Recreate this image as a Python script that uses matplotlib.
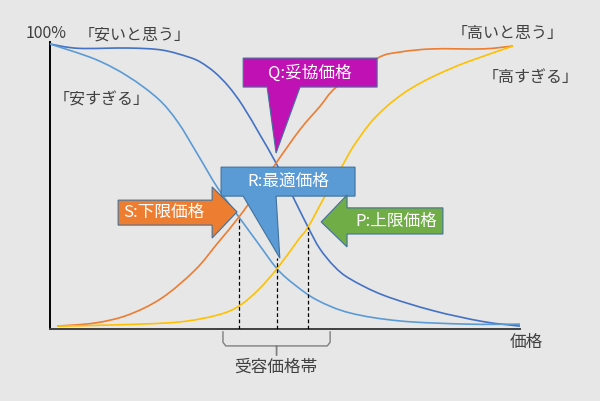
import matplotlib
matplotlib.use("Agg")
import matplotlib.pyplot as plt
from matplotlib.patches import Polygon, PathPatch
from matplotlib.path import Path

plt.rcParams["font.family"] = ["Noto Sans CJK JP", "DejaVu Sans"]

# curves: price (0-100) vs share of answers (%)
cheap_x = [0.0, 6.0, 16.6, 23.8, 29.4, 32.0, 35.0, 38.0, 41.0, 44.7, 48.1,
           51.5, 54.9, 57.4, 60.5, 63.8, 70.9, 81.5, 92.1, 100.0]
cheap_y = [99.3, 97.8, 97.9, 97.2, 94.8, 93.0, 89.5, 84.5, 77.8, 67.6, 57.8,
           46.7, 35.5, 28.0, 21.8, 17.5, 11.8, 6.4, 2.6, 1.0]

too_cheap_x = [0.0, 9.6, 16.6, 23.0, 27.2, 31.5, 35.7, 40.2, 44.0, 48.3,
               52.0, 56.8, 63.8, 74.5, 88.7, 100.0]
too_cheap_y = [99.3, 94.0, 88.0, 80.2, 72.1, 60.6, 49.1, 39.0, 30.5, 21.0,
               15.5, 10.1, 5.6, 2.8, 1.7, 1.7]

expensive_x = [1.5, 9.6, 16.6, 23.8, 30.9, 35.7, 40.2, 44.3, 48.1, 53.2,
               57.4, 61.0, 69.6, 74.5, 81.5, 92.1, 98.5]
expensive_y = [1.0, 2.1, 4.9, 10.8, 20.6, 30.0, 39.0, 48.4, 57.8, 69.5,
               77.5, 84.4, 94.3, 96.5, 97.6, 97.6, 98.6]

too_exp_x = [1.5, 13.2, 27.2, 35.7, 40.2, 44.3, 48.3, 52.8, 54.9, 58.5,
             62.1, 64.5, 68.1, 71.6, 75.2, 78.7, 83.0, 88.7, 98.5]
too_exp_y = [1.0, 1.4, 2.4, 4.9, 8.0, 13.6, 21.0, 31.0, 35.5, 46.3,
             56.6, 63.5, 71.7, 77.5, 82.1, 85.6, 89.1, 93.0, 98.6]

# key points (price, %)
point_s = (40.2, 39.0)
point_r = (48.3, 21.0)
point_p = (54.9, 35.5)

bg = "#e7e7e7"
txt = "#404040"
edge = "#41719c"

fig = plt.figure(figsize=(6.0, 4.01), dpi=100, facecolor=bg)
ax = fig.add_axes([50 / 600, 72 / 401, 470 / 600, 287 / 401])
ax.set_facecolor(bg)
ax.set_xlim(0, 100)
ax.set_ylim(0, 100)
ax.set_xticks([])
ax.set_yticks([])
for s in ["top", "right"]:
    ax.spines[s].set_visible(False)
ax.spines["left"].set_color("#000000")
ax.spines["bottom"].set_color("#404040")
ax.spines["left"].set_linewidth(1.4)
ax.spines["bottom"].set_linewidth(1.4)


def smooth_line(xs, ys, color):
    # smoothed line like a spreadsheet chart: bezier through the points
    pts = list(zip(xs, ys))
    n = len(pts)
    verts = [pts[0]]
    codes = [Path.MOVETO]
    for i in range(n - 1):
        p0 = pts[max(i - 1, 0)]
        p1 = pts[i]
        p2 = pts[i + 1]
        p3 = pts[min(i + 2, n - 1)]
        c1 = (p1[0] + (p2[0] - p0[0]) / 6, p1[1] + (p2[1] - p0[1]) / 6)
        c2 = (p2[0] - (p3[0] - p1[0]) / 6, p2[1] - (p3[1] - p1[1]) / 6)
        verts += [c1, c2, p2]
        codes += [Path.CURVE4] * 3
    ax.add_patch(PathPatch(Path(verts, codes), facecolor="none",
                           edgecolor=color, lw=1.2, clip_on=False, zorder=3))


smooth_line(cheap_x, cheap_y, "#4472c4")
smooth_line(too_cheap_x, too_cheap_y, "#5b9bd5")
smooth_line(expensive_x, expensive_y, "#ed7d31")
smooth_line(too_exp_x, too_exp_y, "#ffc000")

# dashed drop lines
dash = dict(color="#000000", lw=0.9, ls=(0, (3, 2)), zorder=4)
ax.plot([point_s[0]] * 2, [0, point_s[1]], **dash)
ax.plot([point_r[0]] * 2, [0, 24.7], **dash)
ax.plot([point_p[0]] * 2, [0, point_p[1]], **dash)


def shape(pts, color, z=5):
    ax.add_patch(Polygon(pts, closed=True, facecolor=color, edgecolor=edge,
                         lw=0.8, zorder=z, clip_on=False))


# Q callout
shape([(41.1, 94.4), (69.6, 94.4), (69.6, 84.3), (53.2, 84.3), (48.1, 61.3),
       (46.2, 84.3), (41.1, 84.3)], "#c012b4")
ax.text(55.3, 89.3, "Q:妥協価格", color="white", fontsize=12, ha="center",
        va="center", zorder=6)

# R callout
shape([(36.4, 56.4), (64.9, 56.4), (64.9, 46.3), (48.1, 46.3), (48.9, 24.7),
       (41.1, 46.3), (36.4, 46.3)], "#5b9bd5")
ax.text(50.6, 51.4, "R:最適価格", color="white", fontsize=12, ha="center",
        va="center", zorder=6)

# S arrow
shape([(14.5, 44.9), (34.5, 44.9), (34.5, 49.5), (39.8, 40.8), (34.5, 31.7),
       (34.5, 36.2), (14.5, 36.2)], "#ed7d31")
ax.text(24.3, 40.6, "S:下限価格", color="white", fontsize=12, ha="center",
        va="center", zorder=6)

# P arrow
shape([(83.6, 42.2), (63.2, 42.2), (63.2, 46.7), (57.7, 37.3), (63.2, 28.6),
       (63.2, 33.1), (83.6, 33.1)], "#70ad47")
ax.text(73.6, 37.6, "P:上限価格", color="white", fontsize=12, ha="center",
        va="center", zorder=6)

# labels
lab = dict(color=txt, fontsize=11.5, ha="center", va="center", clip_on=False)
ax.text(-0.9, 103.0, "100%", **lab)
ax.text(18.1, 102.6, "「安いと思う」", **lab)
ax.text(10.9, 79.8, "「安すぎる」", **lab)
ax.text(97.4, 103.1, "「高いと思う」", **lab)
ax.text(102.3, 87.8, "「高すぎる」", **lab)
ax.text(101.3, -4.6, "価格", color=txt, fontsize=12, ha="center", va="center")

# bracket for acceptable range
bx = [36.8, 36.8, 37.4, 48.0, 48.2, 48.2, 48.2, 48.4, 59.0, 59.6, 59.6]
by = [-1.0, -4.6, -5.9, -5.9, -6.0, -9.2, -6.0, -5.9, -5.9, -4.6, -1.0]
ax.plot(bx, by, color="#7f7f7f", lw=1.0, clip_on=False)
ax.text(48.1, -13.4, "受容価格帯", color=txt, fontsize=12, ha="center",
        va="center")

fig.savefig("out.png", dpi=100, facecolor=bg)
